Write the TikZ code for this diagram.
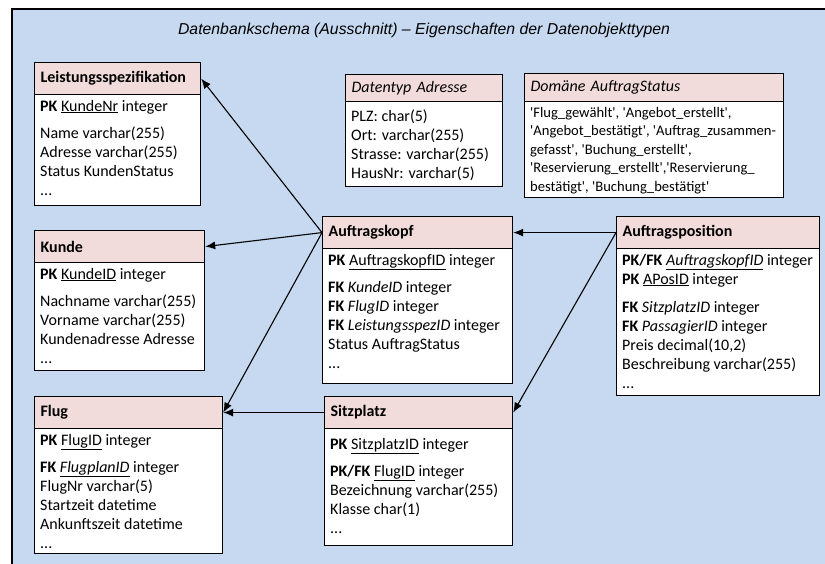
\documentclass[tikz,border=0pt]{standalone}
\usepackage{fontspec}
\setmainfont{Carlito}
\newfontfamily\titlefont{Liberation Sans}
\usetikzlibrary{arrows.meta}
\definecolor{panel}{HTML}{C6D9F0}
\definecolor{hdrpink}{HTML}{F2DCDB}
\newcommand{\bodyfont}{\fontsize{16}{19}\selectfont}
\newcommand{\smallbodyfont}{\fontsize{14.6}{18.4}\selectfont}
\newcommand{\q}{\textquotesingle}
\tikzset{
  hdr/.style={draw=black, line width=1.2pt, fill=hdrpink, anchor=north west,
    minimum height=32pt, inner xsep=6pt, inner ysep=0pt, align=left,
    font=\bodyfont\bfseries},
  frame/.style={draw=black, line width=1.2pt, fill=white, anchor=north west,
    inner sep=0pt},
  txt/.style={anchor=north west, inner xsep=6pt, inner ysep=4.5pt, align=left,
    font=\bodyfont},
  arr/.style={line width=1.1pt, -{Latex[length=10pt,width=8pt]}},
}
\begin{document}
\begin{tikzpicture}[x=1pt,y=-1pt]
\useasboundingbox (0,0) rectangle (825,563);
% panel
\fill[panel] (12,9) rectangle (826,564);
\draw[line width=1.6pt] (12,564) -- (12,9) -- (826,9);
% title
\node[font=\titlefont\itshape\fontsize{15.8}{18}\selectfont] (title) at (424,30)
  {Datenbankschema (Ausschnitt) – Eigenschaften der Datenobjekttypen};

% Leistungsspezifikation
\node[frame, minimum width=166pt, minimum height=143pt] (leistb) at (34,62) {};
\node[hdr, text width=154pt] (leist) at (34,62) {Leistungsspezifikation};
\node[txt] (leistt) at (leist.south west) {\textbf{PK} \underline{KundeNr} integer\\[8pt]
  Name varchar(255)\\ Adresse varchar(255)\\ Status KundenStatus\\ ...};

% Kunde
\node[frame, minimum width=170pt, minimum height=140pt] (kundeb) at (34,230) {};
\node[hdr, text width=158pt] (kunde) at (34,230) {Kunde};
\node[txt] (kundet) at (kunde.south west) {\textbf{PK} \underline{KundeID} integer\\[8pt]
  Nachname varchar(255)\\ Vorname varchar(255)\\ Kundenadresse Adresse\\ ...};

% Flug
\node[frame, minimum width=188pt, minimum height=157pt] (flugb) at (34,396) {};
\node[hdr, text width=176pt] (flug) at (34,396) {Flug};
\node[txt] (flugt) at (flug.south west) {\textbf{PK} \underline{FlugID} integer\\[8pt]
  \textbf{FK} \underline{\textit{FlugplanID}} integer\\ FlugNr varchar(5)\\
  Startzeit datetime\\ Ankunftszeit datetime\\ ...};

% Sitzplatz
\node[frame, minimum width=188pt, minimum height=149pt] (sitzb) at (324,396) {};
\node[hdr, text width=176pt] (sitz) at (324,396) {Sitzplatz};
\node[txt, inner ysep=8.5pt] (sitzt) at (sitz.south west) {\textbf{PK} \underline{SitzplatzID} integer\\[8pt]
  \textbf{PK/FK} \underline{FlugID} integer\\ Bezeichnung varchar(255)\\
  Klasse char(1)\\ ...};

% Auftragskopf
\node[frame, minimum width=190pt, minimum height=167pt] (akopfb) at (322,216) {};
\node[hdr, text width=178pt] (akopf) at (322,216) {Auftragskopf};
\node[txt] (akopft) at (akopf.south west) {\textbf{PK} \underline{AuftragskopfID} integer\\[8pt]
  \textbf{FK} \textit{KundeID} integer\\ \textbf{FK} \textit{FlugID} integer\\
  \textbf{FK} \textit{LeistungsspezID} integer\\ Status AuftragStatus\\ ...};

% Auftragsposition
\node[frame, minimum width=203pt, minimum height=179pt] (aposb) at (616,216) {};
\node[hdr, text width=191pt] (apos) at (616,216) {Auftragsposition};
\node[txt] (apost) at (apos.south west) {\textbf{PK/FK} \underline{\textit{AuftragskopfID}} integer\\
  \textbf{PK} \underline{APosID} integer\\[9pt]
  \textbf{FK} \textit{SitzplatzID} integer\\ \textbf{FK} \textit{PassagierID} integer\\
  Preis decimal(10,2)\\ Beschreibung varchar(255)\\ ...};

% Datentyp Adresse
\node[frame, minimum width=157pt, minimum height=112pt] (adrb) at (345,74) {};
\node[hdr, text width=145pt, minimum height=27pt, font=\bodyfont\itshape] (adr) at (345,74) {Datentyp Adresse};
\node[txt, inner ysep=7.5pt] (adrt) at (adr.south west) {PLZ: char(5)\\ Ort: varchar(255)\\
  Strasse: varchar(255)\\ HausNr: varchar(5)};

% Domäne AuftragStatus
\node[frame, minimum width=259pt, minimum height=124pt] (domb) at (524,73) {};
\node[hdr, text width=247pt, minimum height=28pt, font=\bodyfont\itshape] (dom) at (524,73) {Domäne AuftragStatus};
\node[txt, font=\smallbodyfont, inner ysep=5pt] (domt) at (dom.south west)
  {\q Flug\_gewählt\q, \q Angebot\_erstellt\q,\\
   \q Angebot\_bestätigt\q, \q Auftrag\_zusammen-\\
   gefasst\q, \q Buchung\_erstellt\q,\\
   \q Reservierung\_erstellt\q,\q Reservierung\_\\
   bestätigt\q, \q Buchung\_bestätigt\q};

% connectors
\draw[arr] (akopf.west) -- (leist.east);
\draw[arr] (akopf.west) -- (kunde.east);
\draw[arr] (akopf.west) -- (flug.east);
\draw[arr] (apos.west) -- (akopf.east);
\draw[arr] (apos.west) -- (sitz.east);
\draw[arr] (sitz.west) -- (flug.east);
\end{tikzpicture}
\end{document}
